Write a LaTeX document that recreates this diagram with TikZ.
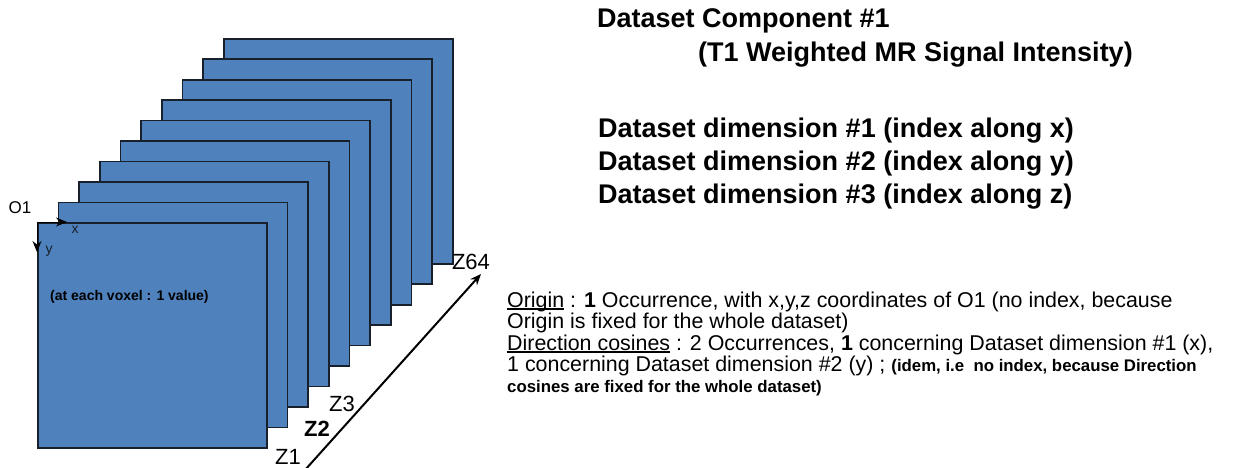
\documentclass[tikz,border=0pt]{standalone}
\usepackage{fontspec}
\setmainfont{Liberation Sans}
\usetikzlibrary{arrows.meta,positioning}
\definecolor{sliceblue}{HTML}{4F81BD}
\definecolor{sliceedge}{HTML}{17202B}
\newcommand\ulbox[1]{\setbox0\hbox{#1}\rlap{\rule[-2.5pt]{\wd0}{1.2pt}}\box0\relax}

\begin{document}
\begin{tikzpicture}[x=1pt,y=-1pt,>={Stealth[length=11pt,width=9pt]},
  slice/.style={rectangle,draw=sliceedge,fill=sliceblue,line width=1.6pt,inner sep=0pt,minimum width=229pt,minimum height=225pt,anchor=north west},
  big/.style={anchor=base west,inner sep=0pt,font=\fontsize{27}{30}\selectfont\bfseries},
  note/.style={anchor=base west,inner sep=0pt,font=\fontsize{21.4}{24}\selectfont},
  small/.style={font=\fontsize{16.8}{18}\selectfont\bfseries},
  zlab/.style={inner sep=0pt,font=\fontsize{22}{24}\selectfont}]
\useasboundingbox (0,0) rectangle (1234,468);

% stack of slices, back one first
\foreach \k in {9,...,0}
  \node[slice] (s\k) at (37+20.67*\k,222-20.44*\k) {};

% origin and in-plane axes
\coordinate (xend) at (67,222);
\coordinate (yend) at (37,252);
\draw[->,line width=1pt] (s0.north west) -- (xend);
\draw[->,line width=1pt] (s0.north west) -- (yend);
\node[inner sep=0pt,font=\fontsize{17}{20}\selectfont] (o1) at (20,208) {O1};
\node[inner sep=0pt,text=sliceedge,font=\fontsize{14}{15}\selectfont] (xlab) at (75,230) {x};
\node[inner sep=0pt,text=sliceedge,font=\fontsize{14}{15}\selectfont] (ylab) at (49,251) {y};
\node[anchor=west,inner sep=0pt,font=\fontsize{14}{16}\selectfont\bfseries] (voxel) at (50,297) {(at each voxel : 1 value)};

% z axis
\coordinate (zfrom) at (305,470);
\coordinate (zto) at (481,274);
\draw[->,line width=2pt] (zfrom) -- (zto);
\node[zlab] (z1) at (288,457) {Z1};
\node[zlab,font=\fontsize{22}{24}\selectfont\bfseries] (z2) at (317,429) {Z2};
\node[zlab] (z3) at (342,404) {Z3};
\node[zlab] (z64) at (471,262) {Z64};

% component and dimensions
\node[big] (comp) at (597,28) {Dataset Component \#1};
\node[big] (signal) at (698,62) {(T1 Weighted MR Signal Intensity)};
\node[big] (dim1) at (598,138) {Dataset dimension \#1 (index along x)};
\node[big] (dim2) at (598,171) {Dataset dimension \#2 (index along y)};
\node[big] (dim3) at (598,203) {Dataset dimension \#3 (index along z)};

% origin and direction cosines
\node[note] (orig1) at (507,307) {\ulbox{Origin} : \textbf{1} Occurrence, with x,y,z coordinates of O1 (no index, because};
\node[note] (orig2) at (507,328) {Origin is fixed for the whole dataset)};
\node[note] (cos1) at (507,350) {\ulbox{Direction cosines} : 2 Occurrences, \textbf{1} concerning Dataset dimension \#1 (x),};
\node[note] (cos2) at (507,371) {1 concerning Dataset dimension \#2 (y) ; {\fontsize{16.8}{18}\selectfont\bfseries (idem, i.e\ \ no index, because Direction}};
\node[note,small] (cos3) at (507,392) {cosines are fixed for the whole dataset)};
\end{tikzpicture}
\end{document}
